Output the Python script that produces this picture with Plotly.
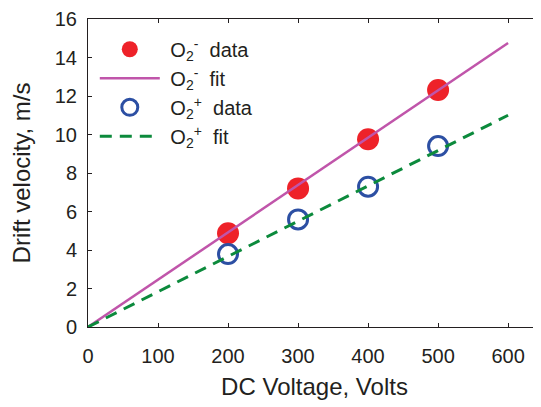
import plotly.graph_objects as go

voltage = [200, 300, 400, 500]
o2_neg = [4.87, 7.20, 9.75, 12.31]
o2_pos = [3.79, 5.59, 7.29, 9.40]
fit_x = [0, 600]
fit_neg = [0, 14.75]
fit_pos = [0, 11.0]
x_ticks = [0, 100, 200, 300, 400, 500, 600]
y_ticks = [0, 2, 4, 6, 8, 10, 12, 14, 16]

FONT = "Liberation Sans, Arial, sans-serif"

fig = go.Figure()
fig.add_trace(go.Scatter(x=voltage, y=o2_neg, mode="markers",
                         name="&nbsp;O<sub>2</sub><sup>-</sup>  data",
                         marker=dict(symbol="circle", size=22, color="#ee2229", line=dict(width=0))))
fig.add_trace(go.Scatter(x=fit_x, y=fit_neg, mode="lines",
                         name="&nbsp;O<sub>2</sub><sup>-</sup>  fit",
                         line=dict(color="#c055aa", width=2.5)))
fig.add_trace(go.Scatter(x=voltage, y=o2_pos, mode="markers",
                         name="&nbsp;O<sub>2</sub><sup>+</sup>  data",
                         marker=dict(symbol="circle-open", size=19, color="#2c4fa3", line=dict(width=3, color="#2c4fa3"))))
fig.add_trace(go.Scatter(x=fit_x, y=fit_pos, mode="lines",
                         name="&nbsp;O<sub>2</sub><sup>+</sup>  fit",
                         line=dict(color="#0c8a3c", width=3, dash="12px,8px")))

fig.update_layout(
    width=533, height=399,
    margin=dict(l=80, r=0, t=11, b=80),
    paper_bgcolor="white", plot_bgcolor="white",
    font=dict(family=FONT, size=20, color="#231f20"),
    showlegend=True,
    legend=dict(x=0.015, y=0.965, xanchor="left", yanchor="top",
                bgcolor="rgba(0,0,0,0)", font=dict(size=20), itemwidth=60,
                tracegroupgap=0),
    xaxis=dict(range=[0, 647], tickvals=x_ticks, ticks="inside", ticklen=4,
               tickcolor="#231f20", showline=True, linecolor="#231f20", linewidth=1,
               mirror="ticks", showgrid=False, zeroline=False, automargin=False,
               title=dict(text="DC Voltage, Volts", standoff=12),
               ticklabelstandoff=11),
    yaxis=dict(range=[0, 16], tickvals=y_ticks, ticks="inside", ticklen=4,
               tickcolor="#231f20", showline=True, linecolor="#231f20", linewidth=1,
               mirror="ticks", showgrid=False, zeroline=False, automargin=False,
               title=dict(text="Drift velocity, m/s", standoff=19),
               ticklabelstandoff=6),
)

fig.write_html("out.html")
